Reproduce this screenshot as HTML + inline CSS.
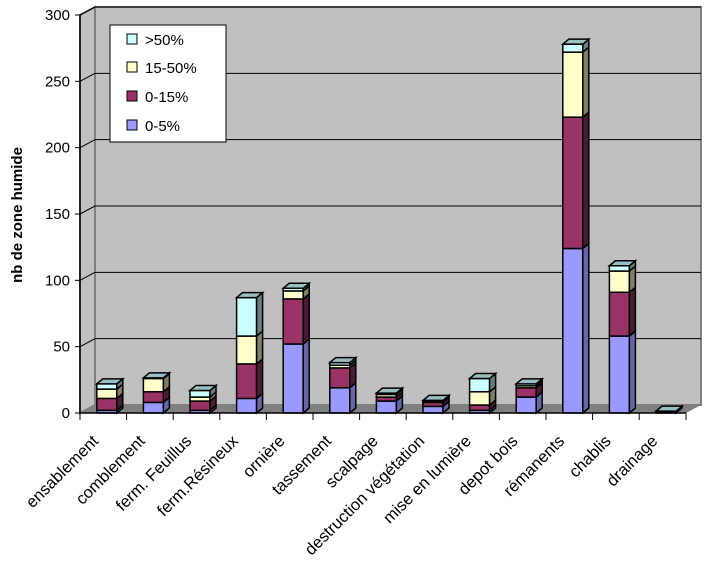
<!DOCTYPE html>
<html><head><meta charset="utf-8"><style>
html,body{margin:0;padding:0;background:#fff;}
svg{display:block;font-family:"Liberation Sans",Arial,sans-serif;}
</style></head><body>
<svg id="c" width="728" height="564" viewBox="0 0 728 564" xmlns="http://www.w3.org/2000/svg">
<rect x="0" y="0" width="728" height="564" fill="#fff"/>
<polygon points="80,15 95,7 95,405 80,413" fill="#c0c0c0" stroke="#808080" stroke-width="2"/>
<rect x="95" y="7" width="606" height="398" fill="#c0c0c0" stroke="#808080" stroke-width="2"/>
<polygon points="80,413 95,405 701,405 686,413" fill="#808080"/>
<g id="grid"></g>
<g id="bars"></g>
<line x1="80" y1="15" x2="80" y2="413" stroke="#000" stroke-width="1.5"/>
<line x1="80" y1="413" x2="686" y2="413" stroke="#000" stroke-width="1.5"/>
<g id="ticks" font-size="15"></g>
<text transform="translate(22,215) rotate(-90)" text-anchor="middle" font-size="15" font-weight="bold">nb de zone humide</text>
<rect x="110" y="25" width="116" height="117" fill="#fff" stroke="#000" stroke-width="1"/>
<g font-size="15">
<rect x="127" y="34" width="10" height="10" fill="#ccffff" stroke="#000"/><text x="145" y="45">&gt;50%</text>
<rect x="127" y="62" width="10" height="10" fill="#ffffcc" stroke="#000"/><text x="145" y="73">15-50%</text>
<rect x="127" y="91" width="10" height="10" fill="#993366" stroke="#000"/><text x="145" y="102">0-15%</text>
<rect x="127" y="120" width="10" height="10" fill="#9999ff" stroke="#000"/><text x="145" y="131">0-5%</text>
</g>
</svg>
<script>
(function(){
var ns="http://www.w3.org/2000/svg";
function el(p,t,a,txt){var e=document.createElementNS(ns,t);for(var k in a)e.setAttribute(k,a[k]);if(txt!=null)e.textContent=txt;p.appendChild(e);return e;}
var g=document.getElementById('grid'),tk=document.getElementById('ticks'),bg=document.getElementById('bars');
var s=398/300;
for(var v=0;v<=300;v+=50){var y=413-v*s;
 if(v>0){el(g,'line',{x1:95,y1:y-8,x2:701,y2:y-8,stroke:'#000','stroke-width':1});
 el(g,'line',{x1:80,y1:y,x2:95,y2:y-8,stroke:'#000','stroke-width':1});}
 el(tk,'line',{x1:75,y1:y,x2:80,y2:y,stroke:'#000'});
 el(tk,'text',{x:70,y:y+5,'text-anchor':'end'},String(v));}
var cats=["ensablement","comblement","ferm. Feuillus","ferm.Résineux","ornière","tassement","scalpage","destruction végétation","mise en lumière","depot bois","rémanents","chablis","drainage"];
var data=[[2,9,7,4],[8,8,10,0.5],[2,7,3,5],[11,26,21,29],[52,34,6,2],[19,15,2,2],[9,3,2,1],[5,3,0.5,1],[2,4,10,10],[12,7,1.5,1.5],[124,99,49,6],[58,33,16,4],[0.5,0.3,0.3,0.3]];
var cols=[["#9999ff","#6666aa","#8080c8"],["#993366","#4d1a33","#73264d"],["#ffffcc","#808066","#bfbf99"],["#ccffff","#668080","#99bfbf"]];
var w=46.6,dx=6,dy=5;
for(var i=0;i<13;i++){var cx=80+w*(i+0.5),x0=cx-6.5,x1=cx+13.5,base=413;
 el(tk,'line',{x1:80+w*i,y1:413,x2:80+w*i,y2:420,stroke:'#000'});
 for(var j=0;j<4;j++){var h=data[i][j]*s,tp=base-h;
  el(bg,'rect',{x:x0,y:tp,width:x1-x0,height:h,fill:cols[j][0],stroke:'#000','stroke-width':1.5});
  el(bg,'polygon',{points:[x1,base,x1+dx,base-dy,x1+dx,tp-dy,x1,tp].join(' '),fill:cols[j][1],stroke:'#000','stroke-width':1.5});
  base=tp;}
 el(bg,'polygon',{points:[x0,base,x0+dx,base-dy,x1+dx,base-dy,x1,base].join(' '),fill:cols[3][2],stroke:'#000','stroke-width':1.5});
 el(tk,'text',{transform:'translate('+(cx-4)+',442) rotate(-45)','text-anchor':'end','font-size':'16.5'},cats[i]);}
el(tk,'line',{x1:686,y1:413,x2:686,y2:420,stroke:'#000'});
})();
</script>
</body></html>
